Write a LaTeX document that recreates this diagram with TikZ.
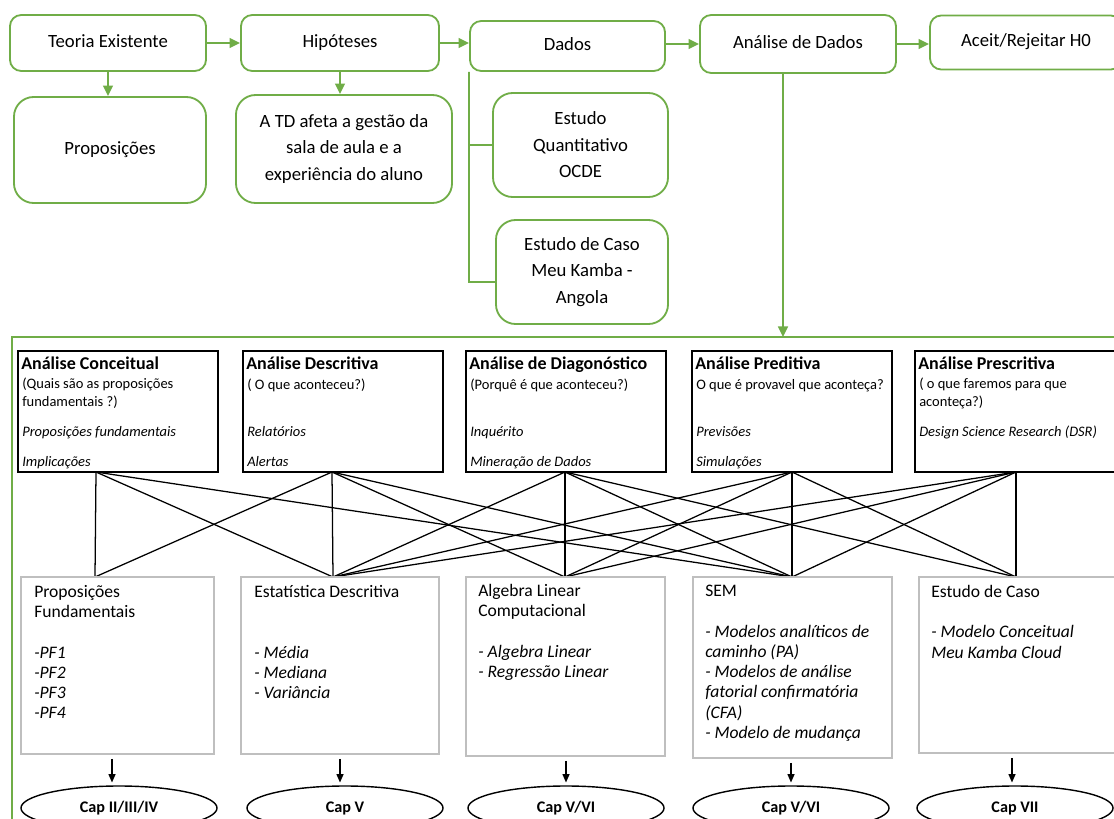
\documentclass[tikz,border=0pt]{standalone}
\usepackage{fontspec}
\setmainfont{Carlito}
\usetikzlibrary{arrows.meta,shapes.geometric}

\definecolor{verde}{HTML}{70AD47}
\definecolor{cinza}{HTML}{BFBFBF}

\tikzset{
  gbox/.style={draw=verde, line width=1.3pt, rounded corners=8pt, align=center,
    inner sep=0pt, font=\fontsize{13.3}{18.8}\selectfont},
  gbox1/.style={gbox, text height=1.5ex, text depth=.25ex},
  gboxr/.style={gbox, rounded corners=14pt},
  gline/.style={draw=verde, line width=1.3pt},
  gseta/.style={gline, -{Triangle[length=7.5pt,width=7pt]}},
  abox/.style={draw, line width=1.8pt, inner sep=0pt, minimum width=5cm, minimum height=3.025cm},
  ahead/.style={anchor=west, inner sep=0pt, text height=1.5ex, text depth=.25ex,
    font=\fontsize{12.8}{14}\selectfont\bfseries},
  asub/.style={anchor=west, inner sep=0pt, text height=1.5ex, text depth=.25ex,
    font=\fontsize{10.3}{12}\selectfont},
  aital/.style={asub, font=\fontsize{10.3}{12}\selectfont\itshape},
  bbox/.style={draw=cinza, line width=1pt, inner sep=0pt},
  btxt/.style={anchor=north west, align=left, inner sep=0pt,
    font=\fontsize{12.5}{14.4}\selectfont},
  liga/.style={line width=0.9pt},
  capnode/.style={ellipse, draw, line width=1pt, minimum width=4.9cm, minimum height=1.1cm,
    inner sep=0pt, text height=1.5ex, text depth=.25ex, font=\fontsize{11.5}{13}\selectfont\bfseries},
  pseta/.style={line width=0.9pt, -{Triangle[length=6pt,width=5pt]}, shorten <=3pt, shorten >=2pt}
}

\begin{document}
\begin{tikzpicture}[x=0.025cm, y=-0.025cm]
  \def\ysup{472}
  \def\yinf{577}
  \useasboundingbox (0,0) rectangle (1114,818);

  % Fluxo de cima
  \node[gbox1, minimum width=4.9cm, minimum height=1.4cm] (teo) at (108,43) {Teoria Existente};
  \node[gbox1, minimum width=4.95cm, minimum height=1.4cm] (hip) at (340,43) {Hipóteses};
  \node[gbox1, minimum width=4.875cm, minimum height=1.25cm] (dados) at (567.5,46) {Dados};
  \node[gbox1, minimum width=4.9cm, minimum height=1.45cm] (analise) at (798,44) {Análise de Dados};
  \node[gbox1, minimum width=4.8cm, minimum height=1.35cm] (aceit) at (1026,42.5) {Aceit/Rejeitar H0};

  \node[gboxr, minimum width=4.8cm, minimum height=2.65cm] (prop) at (110,150) {Proposições};
  \node[gboxr, minimum width=5.4cm, minimum height=2.7cm] (td) at (344,149)
    {A TD afeta a gestão da\\sala de aula e a\\experiência do aluno};
  \node[gboxr, minimum width=4.375cm, minimum height=2.6cm] (est1) at (580.5,145)
    {Estudo\\Quantitativo\\OCDE};
  \node[gboxr, minimum width=4.3cm, minimum height=2.6cm] (est2) at (582,272)
    {Estudo de Caso\\Meu Kamba -\\Angola};

  \draw[gseta] (teo) -- (hip);
  \draw[gseta] (hip.east) -- (hip.east -| dados.west);
  \draw[gseta] (analise.west -| dados.east) -- (analise.west);
  \draw[gseta] (analise.east) -- (analise.east -| aceit.west);
  \draw[gseta] (teo.south) -- (teo.south |- prop.north);
  \draw[gseta] (hip.south) -- (hip.south |- td.north);

  % Ramo dos dados
  \coordinate (ramo) at (469,282);
  \draw[gline] (dados.south west) -- (ramo) -- (ramo -| est2.west);
  \draw[gline] (dados.south west |- est1.west) -- (est1.west);

  % Quadro das analises
  \coordinate (quadro) at (783,337);
  \draw[gline] (12,840) -- (12,337) -- (1140,337);
  \draw[gseta] (analise.south -| quadro) -- (quadro);

  % Tipos de analise
  \node[abox] (conc) at (118,411.5) {};
  \node[abox] (desc) at (343,411.5) {};
  \node[abox] (diag) at (566,411.5) {};
  \node[abox] (pred) at (792,411.5) {};
  \node[abox] (presc) at (1015,411.5) {};

  \node[ahead] (conc-t) at (21,365) {Análise Conceitual};
  \node[asub] (conc-s1) at (22,384) {(Quais são as proposições};
  \node[asub] (conc-s2) at (22,402) {fundamentais ?)};
  \node[aital] (conc-i1) at (22,432) {Proposições fundamentais};
  \node[aital] (conc-i2) at (22,462) {Implicações};

  \node[ahead] (desc-t) at (246,365) {Análise Descritiva};
  \node[asub] (desc-s1) at (247,385) {( O que aconteceu?)};
  \node[aital] (desc-i1) at (247,432) {Relatórios};
  \node[aital] (desc-i2) at (247,462) {Alertas};

  \node[ahead] (diag-t) at (469,365) {Análise de Diagonóstico};
  \node[asub] (diag-s1) at (470,385) {(Porquê é que aconteceu?)};
  \node[aital] (diag-i1) at (470,432) {Inquérito};
  \node[aital] (diag-i2) at (470,462) {Mineração de Dados};

  \node[ahead] (pred-t) at (695,365) {Análise Preditiva};
  \node[asub] (pred-s1) at (696,385) {O que é provavel que aconteça?};
  \node[aital] (pred-i1) at (696,432) {Previsões};
  \node[aital] (pred-i2) at (696,462) {Simulações};

  \node[ahead] (presc-t) at (918,365) {Análise Prescritiva};
  \node[asub] (presc-s1) at (919,384) {( o que faremos para que};
  \node[asub] (presc-s2) at (919,402) {aconteça?)};
  \node[aital] (presc-i1) at (919,432) {Design Science Research (DSR)};

  % Pontos de ligacao
  \foreach \i/\x in {1/96,2/332,3/565,4/792,5/1016} {
    \coordinate (t\i) at (\x,\ysup);
  }
  \foreach \i/\x in {1/95,2/333,3/565,4/792,5/1016} {
    \coordinate (b\i) at (\x,\yinf);
  }
  \foreach \a/\b in {1/1,1/2,1/4,2/1,2/2,2/3,2/4,3/2,3/3,3/4,3/5,4/2,4/3,4/4,4/5,5/2,5/3,5/4,5/5} {
    \draw[liga] (t\a) -- (b\b);
  }

  % Tecnicas
  \node[bbox, minimum width=4.825cm, minimum height=4.425cm] (pf) at (117.5,665.5) {};
  \node[bbox, minimum width=4.95cm, minimum height=4.425cm] (estd) at (340,665.5) {};
  \node[bbox, minimum width=4.975cm, minimum height=4.475cm] (alg) at (565.5,666.5) {};
  \node[bbox, minimum width=4.975cm, minimum height=4.525cm] (sem) at (792.5,667.5) {};
  \node[bbox, minimum width=4.95cm, minimum height=4.4cm] (caso) at (1018,665) {};

  \node[btxt] (pf-txt) at (34,585) {Proposições\\Fundamentais\\[14.4pt]\textit{-PF1}\\\textit{-PF2}\\\textit{-PF3}\\\textit{-PF4}};
  \node[btxt] (estd-txt) at (254,585) {Estatística Descritiva\\[28.8pt]\textit{- Média}\\\textit{- Mediana}\\\textit{- Variância}};
  \node[btxt] (alg-txt) at (478,584) {Algebra Linear\\Computacional\\[14.4pt]\textit{- Algebra Linear}\\\textit{- Regressão Linear}};
  \node[btxt] (sem-txt) at (705,585) {SEM\\[14.4pt]\textit{- Modelos analíticos de}\\\textit{caminho (PA)}\\\textit{- Modelos de análise}\\\textit{fatorial confirmatória}\\\textit{(CFA)}\\\textit{- Modelo de mudança}};
  \node[btxt] (caso-txt) at (931,585) {Estudo de Caso\\[14.4pt]\textit{- Modelo Conceitual}\\\textit{Meu Kamba Cloud}};

  % Capitulos
  \node[capnode] (cap1) at (119,808) {Cap II/III/IV};
  \node[capnode] (cap2) at (345,808) {Cap V};
  \node[capnode] (cap3) at (566,808) {Cap V/VI};
  \node[capnode] (cap4) at (791,808) {Cap V/VI};
  \node[capnode] (cap5) at (1015,808) {Cap VII};

  \draw[pseta] (pf.south -| 112,0) -- (cap1.north -| 112,0);
  \draw[pseta] (estd.south) -- (estd.south |- cap2.north);
  \draw[pseta] (alg.south -| cap3) -- (cap3);
  \draw[pseta] (sem.south -| cap4) -- (cap4);
  \draw[pseta] (caso.south -| 1012,0) -- (cap5.north -| 1012,0);
\end{tikzpicture}
\end{document}
